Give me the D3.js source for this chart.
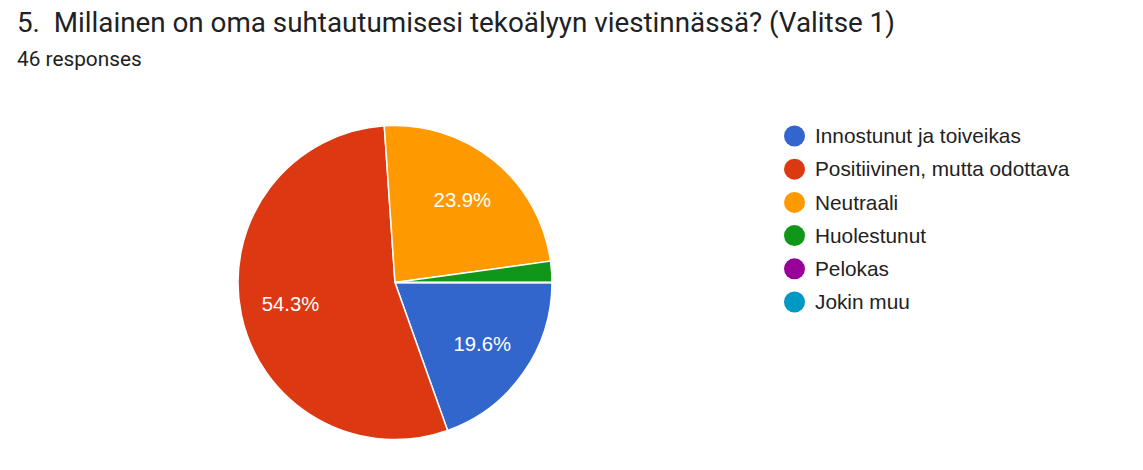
<!DOCTYPE html>
<html><head><meta charset="utf-8">
<script src="https://cdn.jsdelivr.net/npm/d3@7/dist/d3.min.js"></script>
<style>body{margin:0;background:#fff;}svg{display:block;}</style>
</head><body>
<svg id="c" width="1143" height="470"></svg>
<script>
const categories = ["Innostunut ja toiveikas","Positiivinen, mutta odottava","Neutraali","Huolestunut","Pelokas","Jokin muu"];
const counts = [9, 25, 11, 1, 0, 0];
const colors = ["#3366cc","#dc3912","#ff9900","#109618","#990099","#0099c6"];
const titleText = "5.  Millainen on oma suhtautumisesi tekoälyyn viestinnässä? (Valitse 1)";
const subtitleText = "46 responses";

const svg = d3.select("#c");
svg.append("text").attr("x",17).attr("y",32).attr("font-family","Roboto").attr("font-size",27.8)
  .attr("fill","#202124").style("white-space","pre").text(titleText);
svg.append("text").attr("x",17).attr("y",66).attr("font-family","Roboto").attr("font-size",20.8)
  .attr("fill","#202124").text(subtitleText);

const cx=395, cy=282.5, R=157;
const total = d3.sum(counts);
const pie = d3.pie().sort(null).startAngle(Math.PI/2).endAngle(Math.PI/2+2*Math.PI);
const arcs = pie(counts);
const arc = d3.arc().innerRadius(0).outerRadius(R);
const g = svg.append("g").attr("transform",`translate(${cx},${cy})`);
g.selectAll("path").data(arcs).join("path").attr("d",arc).attr("fill",(d,i)=>colors[i])
  .attr("stroke","#fff").attr("stroke-width",1.5);
const lab = d3.arc().innerRadius(R*0.68).outerRadius(R*0.68);
g.selectAll("text").data(arcs.filter(d=>d.value/total>0.05)).join("text")
  .attr("transform",d=>`translate(${lab.centroid(d)})`).attr("text-anchor","middle").attr("dy","0.35em")
  .attr("font-family","Liberation Sans, Arial").attr("font-size",20.3).attr("fill","#fff")
  .text(d=>(d.value/total*100).toFixed(1)+"%");

const lg = svg.append("g");
const y0=136, step=33.2;
categories.forEach((c,i)=>{
  lg.append("circle").attr("cx",794.5).attr("cy",y0+i*step).attr("r",10.5).attr("fill",colors[i]);
  lg.append("text").attr("x",815).attr("y",y0+i*step).attr("dy","0.35em").attr("font-family","Liberation Sans, Arial")
    .attr("font-size",20.8).attr("fill","#222").text(c);
});
</script>
</body></html>
